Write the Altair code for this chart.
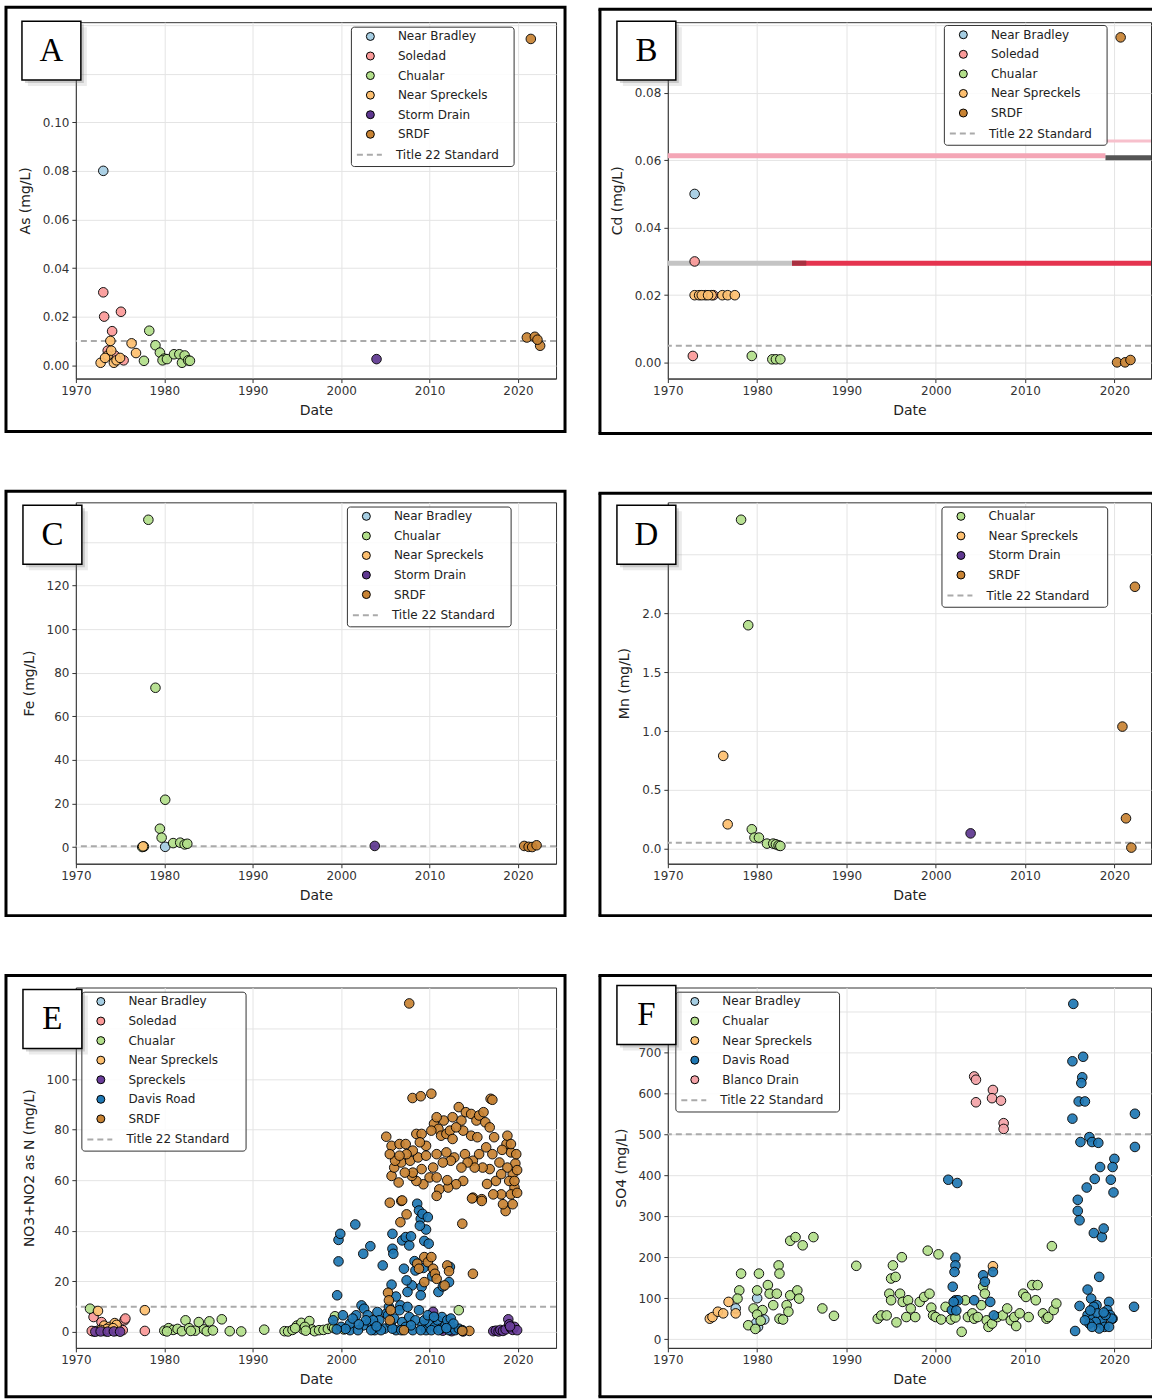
import altair as alt
import pandas as pd

# ------------------------------------------------------------------ data
X_TICKS = [1970, 1980, 1990, 2000, 2010, 2020]

SITE_COLORS = {
    "Near Bradley": "#a6cee3",
    "Soledad": "#fb9a99",
    "Chualar": "#b2df8a",
    "Near Spreckels": "#fdbf6f",
    "Storm Drain": "#5e3790",
    "Spreckels": "#6a3d9a",
    "Davis Road": "#1f78b4",
    "SRDF": "#c88333",
    "Blanco Drain": "#f4a3a8",
}

# Panel A: As (mg/L)
AS_SITES = ["Near Bradley", "Soledad", "Chualar", "Near Spreckels", "Storm Drain", "SRDF"]
AS_STD = 0.010
AS_YEARS = {
    "Near Bradley": [1973.1],
    "Soledad": [1973.1, 1973.2, 1975.1, 1974.1, 1975.4, 1973.6, 1974.4],
    "Chualar": [1978.3, 1977.7, 1979.0, 1979.5, 1980.0, 1979.8, 1980.3, 1981.1, 1981.7, 1982.0, 1982.3, 1982.7, 1982.9],
    "Near Spreckels": [1972.8, 1973.9, 1976.3, 1976.8, 1973.6, 1974.3, 1973.3, 1974.0, 1974.6, 1975.0],
    "Storm Drain": [2004.0],
    "SRDF": [2021.45, 2021.0, 2021.9, 2022.5, 2022.2],
}
AS_VALUES = {
    "Near Bradley": [0.080],
    "Soledad": [0.030, 0.020, 0.022, 0.014, 0.002, 0.006, 0.004],
    "Chualar": [0.0142, 0.0018, 0.0082, 0.0052, 0.0027, 0.0020, 0.0025, 0.0045, 0.0045, 0.0010, 0.0040, 0.0020, 0.0018],
    "Near Spreckels": [0.001, 0.010, 0.009, 0.005, 0.004, 0.001, 0.003, 0.006, 0.002, 0.003],
    "Storm Drain": [0.0025],
    "SRDF": [0.1343, 0.0114, 0.0117, 0.0080, 0.0105],
}

# Panel B: Cd (mg/L)
CD_SITES = ["Near Bradley", "Soledad", "Chualar", "Near Spreckels", "SRDF"]
CD_STD = 0.005
CD_YEARS = {
    "Near Bradley": [1973.0],
    "Soledad": [1973.0, 1972.8, 1975.1],
    "Chualar": [1979.4, 1981.7, 1982.1, 1982.6],
    "Near Spreckels": [1973.0, 1973.5, 1974.2, 1974.9, 1976.1, 1976.7, 1977.5, 1973.8, 1974.5],
    "SRDF": [2020.7, 2020.3, 2021.2, 2021.8],
}
CD_VALUES = {
    "Near Bradley": [0.050],
    "Soledad": [0.030, 0.002, 0.020],
    "Chualar": [0.002, 0.001, 0.001, 0.001],
    "Near Spreckels": [0.020, 0.020, 0.020, 0.020, 0.020, 0.020, 0.020, 0.020, 0.020],
    "SRDF": [0.0964, 0.0001, 0.0001, 0.0008],
}
# coloured streaks visible across panel B
CD_STREAK_START = [1970.0, 2018.8, 2019.0, 1970.0, 1983.9, 1983.9]
CD_STREAK_END = [2019.0, 2024.1, 2024.1, 1983.9, 2024.1, 1985.5]
CD_STREAK_VALUE = [0.0613, 0.0657, 0.0607, 0.0295, 0.0295, 0.0295]
CD_STREAK_COLOR = ["#f4a6b6", "#f7c0cc", "#555555", "#c4c4c4", "#e5344f", "#a83040"]
CD_STREAK_WIDTH = [5, 3, 5, 5, 5, 5]

# Panel C: Fe (mg/L)
FE_SITES = ["Near Bradley", "Chualar", "Near Spreckels", "Storm Drain", "SRDF"]
FE_STD = 0.3
FE_YEARS = {
    "Near Bradley": [1980.1],
    "Chualar": [1978.2, 1979.0, 1980.1, 1979.5, 1979.7, 1977.7, 1977.5, 1981.0, 1981.8, 1982.3, 1982.6],
    "Near Spreckels": [1977.6],
    "Storm Drain": [2003.8],
    "SRDF": [2020.7, 2021.2, 2021.6, 2022.1],
}
FE_VALUES = {
    "Near Bradley": [0.1],
    "Chualar": [150.2, 73.1, 21.7, 8.4, 4.3, 0.2, 0.0, 1.8, 2.0, 1.2, 1.5],
    "Near Spreckels": [0.3],
    "Storm Drain": [0.5],
    "SRDF": [0.5, 0.1, 0.0, 0.8],
}

# Panel D: Mn (mg/L)
MN_SITES = ["Chualar", "Near Spreckels", "Storm Drain", "SRDF"]
MN_STD = 0.05
MN_YEARS = {
    "Chualar": [1978.2, 1979.0, 1979.4, 1979.7, 1980.2, 1981.1, 1981.8, 1982.1, 1982.4, 1982.6],
    "Near Spreckels": [1976.2, 1976.7],
    "Storm Drain": [2003.9],
    "SRDF": [2022.3, 2020.9, 2021.3, 2021.9],
}
MN_VALUES = {
    "Chualar": [2.797, 1.90, 0.165, 0.094, 0.094, 0.043, 0.043, 0.037, 0.028, 0.023],
    "Near Spreckels": [0.789, 0.207],
    "Storm Drain": [0.13],
    "SRDF": [2.227, 1.038, 0.258, 0.009],
}

# Panel E: NO3+NO2 as N (mg/L)
NO_SITES = ["Near Bradley", "Soledad", "Chualar", "Near Spreckels", "Spreckels", "Davis Road", "SRDF"]
NO_STD = 10.0
NO_YEARS = {
    "Near Bradley": [1972.0, 1972.5, 1973.3, 1974.6],
    "Soledad": [1971.8, 1972.0, 1972.9, 1974.1, 1974.7, 1975.3, 1975.5, 1975.6, 1973.3, 1977.8],
    "Chualar": [1971.6, 1980.0, 1980.5, 1981.0, 1981.5, 1982.0, 1982.4, 1982.8, 1983.5, 1983.9,
                1984.5, 1985.1, 1984.8, 1986.5, 1987.4, 1988.7, 1991.3, 1993.6, 1994.0, 1994.5,
                1995.0, 1995.5, 1995.7, 1996.4, 1996.7, 1997.0, 1997.5, 1998.0, 1998.5, 1999.0,
                1999.3, 1999.2, 2013.3, 1980.3, 1983.0, 1985.5, 1994.8, 1995.9, 1996.0, 2000.3],
    "Near Spreckels": [1972.5, 1977.8, 1973.2, 1973.8, 1974.4, 1974.6, 1973.5, 1974.2, 1972.8],
    "Spreckels": [1972.2, 1972.8, 1973.6, 1974.3, 1975.0, 2010.4, 2017.2, 2017.5, 2017.8, 2018.0,
                  2018.3, 2018.6, 2018.9, 2019.0, 2019.2, 2019.4, 2019.6, 2019.9, 2019.1, 2010.8,
                  2011.5, 2012.5, 2013.8],
    "Davis Road": [1999.55, 1999.7, 1999.7, 1999.9, 2001.6, 2002.5, 2003.3, 2004.7, 2005.8, 2005.8,
                   2005.9, 2005.7, 2006.9, 2007.3, 2007.7, 2007.9, 2008.6, 2008.8, 2009.0, 2009.2,
                   2009.8, 2009.4, 2009.9, 2009.3, 2009.1, 2009.0, 2008.4, 2008.0, 2007.5, 2007.4,
                   2006.7, 2011.0, 2012.2, 2012.3, 2005.1, 2006.2, 2008.3, 2009.6, 2008.9, 2007.1,
                   2010.3, 2011.5,
                   1999.1, 2000.2, 2000.0, 2001.0, 2001.7, 2002.3, 2002.6, 2003.0, 2003.2, 2002.5,
                   2001.9, 2003.8, 2004.1, 2004.3, 2004.9, 2005.3, 2005.6, 2006.0, 2006.2, 2006.6,
                   2006.9, 2007.3, 2007.5, 2007.7, 2008.1, 2008.4, 2008.8, 2009.2, 2009.6, 2010.0,
                   2010.6, 2010.9, 2011.3, 2011.4, 2011.8, 2012.2, 2012.5, 2012.9, 2013.3, 2013.7,
                   2001.0, 2001.3, 2003.4, 2004.5, 2005.8, 2006.8, 2007.9, 2009.0, 2009.4, 2009.8,
                   2010.2, 2011.0, 2012.0, 2012.4, 2012.7, 2005.4, 2003.6, 2002.8, 2000.5, 1999.5,
                   2002.0, 2004.0, 2010.5, 2011.9],
    "SRDF": [2007.7, 2008.07, 2009.0, 2010.2, 2016.9, 2013.3,
             2005.1, 2005.7, 2006.6, 2007.3, 2008.5, 2009.1, 2009.6, 2010.5, 2011.0, 2011.6,
             2011.3, 2011.9, 2012.3, 2012.6, 2013.6, 2014.1, 2014.7, 2015.3, 2015.6, 2016.1,
             2016.3, 2016.8, 2017.3, 2018.7, 2019.2, 2019.7, 2019.4, 2019.6, 2019.4, 2018.6,
             2018.1, 2017.5, 2017.2, 2015.9, 2014.9, 2013.8, 2013.0, 2012.1, 2011.1, 2010.8,
             2009.3, 2008.5, 2008.0, 2006.5, 2005.7, 2006.0, 2006.8, 2007.8, 2008.7, 2009.6,
             2010.8, 2011.9, 2012.8, 2014.0, 2014.9, 2015.6, 2016.4, 2017.1, 2017.9, 2018.8,
             2019.0, 2018.1, 2016.8, 2016.0, 2015.1, 2014.3, 2013.6, 2012.4, 2011.5, 2010.4,
             2009.1, 2008.1, 2007.2, 2006.1, 2005.5, 2010.0, 2010.8, 2014.7, 2015.4, 2013.8,
             2013.0, 2012.6, 2010.8, 2010.2, 2008.9, 2008.1, 2007.4, 2006.6, 2018.8, 2019.2,
             2019.8, 2019.6, 2019.2, 2018.3, 2005.5, 2006.8, 2014.8, 2015.9, 2013.7, 2006.7,
             2006.9, 2017.1, 2012.0, 2016.5, 2018.2, 2019.9, 2019.9,
             2005.3, 2005.4, 2005.6, 2008.6, 2009.4, 2009.8, 2010.2, 2010.4, 2010.6, 2010.8,
             2012.0, 2011.7, 2009.4, 2014.9, 2005.5, 2007.1, 2014.5, 2013.7, 2007.4, 2008.8,
             2012.2],
}
NO_VALUES = {
    "Near Bradley": [0.2, 0.5, 0.3, 0.4],
    "Soledad": [0.4, 5.9, 3.9, 2.0, 1.3, 0.7, 4.6, 5.3, 0.7, 0.4],
    "Chualar": [9.2, 0.5, 1.5, 0.8, 1.2, 0.3, 4.6, 1.5, 0.5, 3.9,
                1.0, 4.2, 0.3, 5.0, 0.3, 0.2, 0.9, 0.3, 0.2, 0.8,
                2.5, 3.6, 1.0, 4.3, 1.0, 0.3, 0.7, 0.8, 1.2, 2.0,
                6.2, 1.5, 8.6, 0.2, 0.4, 0.6, 1.5, 2.0, 0.5, 1.0],
    "Near Spreckels": [8.3, 8.6, 2.5, 2.0, 3.5, 2.8, 1.2, 1.5, 0.8],
    "Spreckels": [0.1, 0.2, 0.1, 0.2, 0.1, 7.9, 0.3, 0.5, 0.2, 0.8,
                  0.4, 1.0, 5.0, 3.0, 1.5, 0.8, 2.0, 0.7, 2.2, 1.5,
                  0.5, 0.3, 0.2],
    "Davis Road": [14.5, 27.9, 36.4, 38.8, 42.5, 30.9, 33.9, 26.3, 38.8, 32.9,
                   30.9, 18.7, 36.2, 37.5, 34.2, 37.8, 50.7, 48.0, 44.7, 46.7,
                   45.4, 36.0, 34.9, 25.3, 17.8, 14.5, 24.3, 18.4, 15.8, 20.4,
                   10.5, 15.8, 19.7, 25.7, 7.2, 14.0, 28.0, 40.5, 42.0, 25.0,
                   22.0, 18.0,
                   4.6, 6.6, 2.0, 0.7, 6.6, 10.5, 9.2, 6.6, 3.9, 2.6,
                   0.7, 0.7, 7.9, 4.6, 1.3, 6.6, 3.3, 5.3, 0.7, 8.6,
                   3.9, 2.0, 9.9, 5.9, 0.7, 4.6, 8.6, 2.6, 0.7, 3.3,
                   2.0, 4.6, 1.3, 5.9, 2.6, 0.7, 2.0, 0.7, 1.3, 0.7,
                   3.3, 5.3, 0.7, 0.7, 1.3, 0.7, 2.6, 0.7, 4.6, 6.6,
                   0.7, 0.7, 4.6, 5.3, 3.3, 9.9, 4.6, 4.6, 1.2, 1.0,
                   3.0, 2.2, 6.0, 1.5],
    "SRDF": [129.9, 92.5, 93.2, 94.2, 92.2, 88.9,
             77.2, 73.6, 74.3, 74.3, 78.3, 78.3, 73.6, 82.3, 80.3, 83.6,
             77.6, 78.3, 79.6, 76.3, 83.6, 86.9, 86.2, 83.6, 85.6, 86.9,
             82.9, 80.9, 77.0, 74.3, 71.0, 66.6, 62.4, 57.1, 50.5, 47.8,
             54.4, 59.7, 54.4, 52.5, 53.1, 59.7, 58.4, 57.1, 56.4, 53.8,
             58.4, 59.7, 61.7, 59.1, 61.7, 65.0, 67.0, 67.7, 69.0, 69.7,
             70.3, 71.0, 69.0, 70.3, 67.7, 70.3, 73.0, 70.3, 67.0, 65.0,
             59.7, 62.4, 64.4, 65.0, 65.0, 67.0, 65.0, 67.7, 67.0, 65.0,
             64.4, 63.0, 63.0, 67.7, 70.3, 61.1, 61.1, 77.6, 77.0, 79.6,
             80.9, 84.9, 84.9, 79.6, 75.0, 71.7, 70.3, 69.7, 77.6, 74.3,
             70.3, 59.7, 54.4, 50.5, 51.1, 51.8, 52.8, 51.8, 42.8, 43.4,
             52.0, 91.8, 60.0, 58.5, 72.0, 64.0, 55.0,
             15.5, 12.5, 8.6, 27.0, 29.6, 27.6, 29.6, 25.0, 23.0, 21.0,
             26.3, 18.4, 19.7, 23.0, 4.6, 0.7, 0.4, 0.4, 46.5, 25.0,
             24.0],
}

# Panel F: SO4 (mg/L)
SO_SITES = ["Near Bradley", "Chualar", "Near Spreckels", "Davis Road", "Blanco Drain"]
SO_STD = 500.0
SO_YEARS = {
    "Near Bradley": [1980.0, 1980.1, 1980.8, 1977.6, 1979.9],
    "Chualar": [1978.2, 1978.0, 1977.8, 1979.0, 1979.6, 1980.0, 1980.2, 1980.6, 1981.2, 1981.4,
                1981.8, 1982.4, 1982.5, 1982.2, 1982.5, 1982.9, 1983.3, 1983.5, 1983.7, 1984.5,
                1984.7, 1983.7, 1984.3, 1985.1, 1986.3, 1987.3, 1988.6, 1991.1, 1993.5, 1993.9,
                1994.5, 1994.8, 1995.0, 1995.2, 1995.5, 1995.0, 1995.6, 1996.2, 1996.0, 1996.3,
                1996.7, 1996.9, 1997.2, 1997.7, 1998.2, 1998.7, 1999.1, 1999.3, 1999.5, 1999.7,
                2000.3, 2000.0, 2000.6, 2001.1, 2001.7, 2002.2, 2002.9, 2003.3, 2003.6, 2004.1,
                2004.3, 2004.7, 2005.1, 2005.3, 2005.5, 2005.7, 2005.9, 2006.3, 2006.9, 2007.5,
                2008.0, 2008.4, 2008.8, 2009.0, 2009.4, 2009.8, 2010.1, 2010.4, 2010.8, 2011.4,
                2011.2, 2012.0, 2012.4, 2012.6, 2013.0, 2013.2, 2013.5, 1980.0, 1980.4, 1979.8],
    "Near Spreckels": [1974.7, 1975.0, 1975.6, 1976.2, 1976.8, 1977.6, 2006.4],
    "Davis Road": [2001.4, 2002.4, 2002.2, 2002.2, 2002.1, 2001.9, 2002.2, 2001.8, 2002.5, 2004.3,
                   2005.3, 2005.5, 2006.1, 2006.4, 2006.5, 2002.0, 2002.3,
                   2015.4, 2015.3, 2016.5, 2016.4, 2016.3, 2016.0, 2016.7, 2015.3, 2016.2, 2017.2,
                   2017.5, 2018.2, 2020.0, 2019.8, 2018.4, 2017.8, 2016.9, 2019.6, 2019.9, 2015.9,
                   2015.9, 2016.1, 2017.7, 2018.6, 2018.8, 2018.3, 2017.0, 2017.4, 2018.0, 2016.1,
                   2015.6, 2019.4, 2019.8, 2018.6, 2022.3, 2022.3, 2022.2,
                   2017.7, 2017.0, 2017.6, 2018.1, 2018.6, 2017.9, 2017.2, 2019.2, 2019.5, 2019.7,
                   2018.9, 2019.4, 2016.7, 2018.3, 2019.0, 2017.3, 2018.8, 2017.5],
    "Blanco Drain": [2004.3, 2004.5, 2004.5, 2006.4, 2006.3, 2007.3, 2007.6, 2007.6],
}
SO_VALUES = {
    "Near Bradley": [100, 30, 48, 75, 40],
    "Chualar": [160, 119, 99, 34, 75, 119, 160, 71, 132, 111,
                83, 180, 160, 111, 50, 48, 83, 67, 107, 119,
                99, 240, 249, 229, 249, 75, 57, 179, 50, 58,
                58, 111, 148, 180, 152, 95, 41, 200, 111, 91,
                54, 95, 75, 54, 91, 103, 216, 111, 77, 58,
                207, 54, 48, 79, 48, 53, 18, 95, 54, 63,
                50, 54, 83, 128, 111, 46, 30, 38, 54, 58,
                75, 46, 54, 32, 63, 111, 103, 54, 132, 132,
                95, 63, 50, 54, 227, 71, 87, 60, 45, 25],
    "Near Spreckels": [50, 54, 67, 63, 91, 63, 178],
    "Davis Road": [389, 381, 199, 180, 164, 128, 95, 71, 95, 95,
                   156, 140, 91, 164, 58, 91, 70,
                   818, 678, 689, 639, 625, 580, 580, 538, 481, 493,
                   481, 479, 440, 420, 420, 391, 370, 389, 358, 340,
                   313, 290, 259, 249, 270, 152, 121, 99, 83, 81,
                   20, 91, 50, 38, 550, 469, 79,
                   79, 59, 50, 63, 46, 42, 38, 71, 59, 50,
                   30, 30, 46, 26, 59, 70, 65, 30],
    "Blanco Drain": [641, 633, 578, 608, 588, 582, 527, 513],
}

# ------------------------------------------------------------------ helpers
ONE = [{"k": 1}]
PITCH = 19.6


def pix_rect(x0, x1, y0, y1, **props):
    return alt.Chart(alt.Data(values=ONE)).mark_rect(**props).encode(
        x=alt.value(x0), x2=alt.value(x1), y=alt.value(y0), y2=alt.value(y1))


def pix_hrule(x0, x1, y, **props):
    return alt.Chart(alt.Data(values=ONE)).mark_rule(**props).encode(
        x=alt.value(x0), x2=alt.value(x1), y=alt.value(y))


def pix_vrule(x, y0, y1, **props):
    return alt.Chart(alt.Data(values=ONE)).mark_rule(**props).encode(
        x=alt.value(x), y=alt.value(y0), y2=alt.value(y1))


def make_panel(letter, sites, years, values, std, ytitle, ydom, yticks, yfmt, hidden,
               xdom, W, H, leg, frame, letter_xy, right_col, streaks=None):
    recs = []
    for s in sites:
        for xv, yv in zip(years[s], values[s]):
            recs.append({"year": xv, "value": yv, "site": s})
    df = pd.DataFrame(recs)

    lo, hi = hidden
    x_enc = alt.X("year:Q", scale=alt.Scale(domain=xdom, nice=False, zero=False),
                  axis=alt.Axis(values=X_TICKS, format="d", title="Date", titlePadding=7))
    y_enc = alt.Y("value:Q", scale=alt.Scale(domain=ydom, nice=False, zero=False),
                  axis=alt.Axis(values=yticks, format=yfmt, title=ytitle, titlePadding=10,
                                labelExpr=f"(datum.value > {lo} && datum.value < {hi}) ? '' : datum.label"))

    lx, ly, lw = leg
    nrow = len(sites) + 1
    layers = []

    if streaks is not None:
        sdf = pd.DataFrame({"year": streaks[0], "year2": streaks[1], "value": streaks[2],
                            "col": streaks[3], "w": streaks[4]})
        layers.append(alt.Chart(sdf).mark_rule().encode(
            x=x_enc, x2="year2:Q", y=y_enc,
            stroke=alt.Stroke("col:N", scale=None, legend=None),
            strokeWidth=alt.StrokeWidth("w:Q", scale=None, legend=None)))

    std_df = pd.DataFrame({"value": [std], "label": ["Title 22 Standard"]})
    layers.append(alt.Chart(std_df).mark_rule(color="#aaaaaa", strokeWidth=2).encode(
        y=y_enc,
        strokeDash=alt.StrokeDash(
            "label:N", scale=alt.Scale(domain=["Title 22 Standard"], range=[[6, 4]]),
            legend=alt.Legend(orient="none", legendX=lx + 4.5,
                              legendY=ly + 9.3 + (nrow - 1) * PITCH - 12.5,
                              title=None, padding=0, symbolType="stroke", symbolSize=625,
                              symbolStrokeColor="#aaaaaa", symbolStrokeWidth=2,
                              labelOffset=13.1))))

    layers.append(alt.Chart(df).mark_circle(size=92, stroke="black", strokeWidth=1,
                                            opacity=0.92).encode(
        x=x_enc, y=y_enc,
        color=alt.Color("site:N",
                        scale=alt.Scale(domain=sites, range=[SITE_COLORS[s] for s in sites]),
                        legend=alt.Legend(orient="none", legendX=lx + 13, legendY=ly + 3.3,
                                          title=None, padding=0, symbolType="circle",
                                          symbolSize=64, symbolStrokeColor="black",
                                          symbolStrokeWidth=1, symbolOpacity=1,
                                          labelOffset=21.6, rowPadding=PITCH - 12,
                                          symbolOffset=0))))

    lh = (nrow - 1) * PITCH + 22
    layers.append(pix_rect(lx, lx + lw, ly, ly + lh, fill="white", fillOpacity=0.85,
                           stroke="#333333", strokeWidth=1, cornerRadius=3))

    fx0, fx1, fy0, fy1 = frame
    if right_col:
        layers.append(pix_vrule(fx0, fy0, fy1, color="black", strokeWidth=3))
        layers.append(pix_hrule(fx0 - 1.5, fx1, fy0, color="black", strokeWidth=3))
        layers.append(pix_hrule(fx0 - 1.5, fx1, fy1, color="black", strokeWidth=3))
    else:
        layers.append(pix_rect(fx0, fx1, fy0, fy1, fillOpacity=0, stroke="black", strokeWidth=3))

    bx, by = letter_xy
    bs = 59
    layers.append(pix_rect(bx + 6, bx + bs + 6, by + 6, by + bs + 6, fill="#777777", opacity=0.15))
    layers.append(pix_rect(bx + 3, bx + bs + 3, by + 3, by + bs + 3, fill="#777777", opacity=0.3))
    layers.append(pix_rect(bx, bx + bs, by, by + bs, fill="white", stroke="black", strokeWidth=1.5))
    layers.append(alt.Chart(alt.Data(values=ONE)).mark_text(
        text=letter, font="Liberation Serif", fontSize=33, color="black",
        align="center", baseline="alphabetic").encode(
        x=alt.value(bx + bs / 2), y=alt.value(by + 40)))

    return alt.layer(*layers).properties(width=W, height=H)


XDOM_L = [1970, 2024.3]
XDOM_R = [1970, 2024.1]
WL, WR = 481, 484

pA = make_panel("A", AS_SITES, AS_YEARS, AS_VALUES, AS_STD, "As (mg/L)",
                [-0.0055, 0.1412], [0, 0.02, 0.04, 0.06, 0.08, 0.10, 0.12, 0.14], ".2f", (0.11, 0.13),
                XDOM_L, WL, 357, (276, 5, 163), (-70, WL + 9, -15, 410), (-54, -1), False)
pB = make_panel("B", CD_SITES, CD_YEARS, CD_VALUES, CD_STD, "Cd (mg/L)",
                [-0.0047, 0.1009], [0, 0.02, 0.04, 0.06, 0.08, 0.10], ".2f", (1, 2),
                XDOM_R, WR, 357, (277, 3.3, 163), (-68, WR + 1, -13, 412), (-51, -1), True,
                streaks=(CD_STREAK_START, CD_STREAK_END, CD_STREAK_VALUE,
                         CD_STREAK_COLOR, CD_STREAK_WIDTH))
pC = make_panel("C", FE_SITES, FE_YEARS, FE_VALUES, FE_STD, "Fe (mg/L)",
                [-7.66, 158.2], [0, 20, 40, 60, 80, 100, 120, 140], "d", (130, 1000),
                XDOM_L, WL, 362, (272, 4.7, 164), (-70, WL + 9, -11, 414), (-53, 3), False)
pD = make_panel("D", MN_SITES, MN_YEARS, MN_VALUES, MN_STD, "Mn (mg/L)",
                [-0.128, 2.945], [0, 0.5, 1.0, 1.5, 2.0, 2.5], ".1f", (2.2, 10),
                XDOM_R, WR, 362, (274.6, 4.7, 166), (-68, WR + 1, -9, 414), (-51, 3), True)
pE = make_panel("E", NO_SITES, NO_YEARS, NO_VALUES, NO_STD, "NO3+NO2 as N (mg/L)",
                [-6.3, 136.2], [0, 20, 40, 60, 80, 100, 120], "d", (110, 1000),
                XDOM_L, WL, 361, (6, 4.7, 164.5), (-70, WL + 9, -12, 410), (-53, 2), False)
pF = make_panel("F", SO_SITES, SO_YEARS, SO_VALUES, SO_STD, "SO4 (mg/L)",
                [-21.2, 858], [0, 100, 200, 300, 400, 500, 600, 700, 800], "d", (750, 10000),
                XDOM_R, WR, 361, (8, 4.7, 164), (-68, WR + 1, -12, 410), (-51, -2), True)

RES = dict(color="independent", strokeDash="independent", stroke="independent")

chart = (
    alt.concat(pA, pB, pC, pD, pE, pF, columns=2, bounds="flush",
               spacing={"row": 124, "column": 112})
    .resolve_scale(**RES)
    .properties(padding={"left": 4, "top": 4, "right": 0, "bottom": 0})
    .configure_axis(labelFont="DejaVu Sans", labelFontSize=12, labelColor="#333333",
                    titleFont="DejaVu Sans", titleFontSize=14, titleFontWeight="normal",
                    titleColor="#222222", gridColor="#e4e4e4", gridWidth=1,
                    domainColor="#333333", tickColor="#333333", tickSize=4,
                    labelPadding=3, labelFlush=False)
    .configure_view(stroke="#333333", strokeWidth=1)
    .configure_legend(labelFont="DejaVu Sans", labelFontSize=12, labelColor="#222222")
)

chart.save("out.html", embed_options={"renderer": "svg", "actions": False})
